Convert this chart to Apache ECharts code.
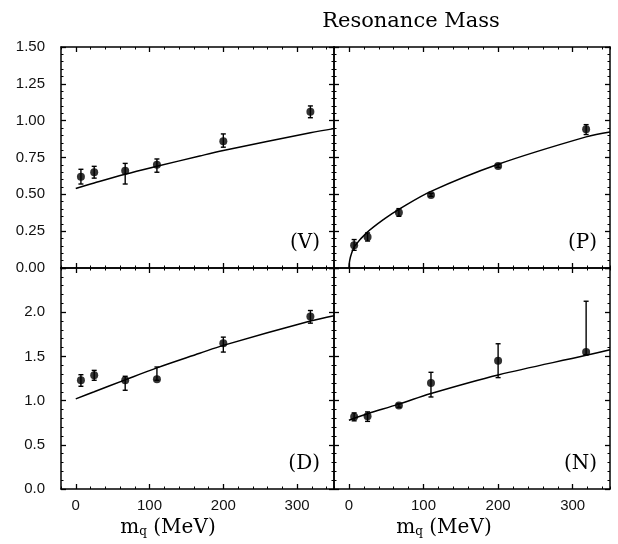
<!DOCTYPE html>
<html>
<head>
<meta charset="utf-8">
<script src="https://cdn.jsdelivr.net/npm/echarts@6/dist/echarts.min.js"></script>
<style>html,body{margin:0;padding:0;background:#fff}#c{width:618px;height:544px}</style>
</head>
<body>
<div id="c"></div>
<script>
// ---- data ----
const mq = [7, 25, 67, 110, 200, 318];

const vMass = [0.62, 0.65, 0.66, 0.70, 0.86, 1.06];
const vLo   = [0.57, 0.61, 0.57, 0.65, 0.82, 1.02];
const vHi   = [0.67, 0.69, 0.71, 0.74, 0.91, 1.10];

const pMass = [0.155, 0.21, 0.376, 0.496, 0.693, 0.942];
const pLo   = [0.12, 0.183, 0.351, 0.486, 0.683, 0.906];
const pHi   = [0.193, 0.238, 0.403, 0.506, 0.703, 0.973];

const dMass = [1.23, 1.286, 1.23, 1.241, 1.65, 1.951];
const dLo   = [1.162, 1.23, 1.117, 1.23, 1.549, 1.876];
const dHi   = [1.293, 1.342, 1.275, 1.38, 1.718, 2.019];

const nMass = [0.816, 0.823, 0.944, 1.20, 1.451, 1.549];
const nLo   = [0.771, 0.765, 0.925, 1.041, 1.26, 1.52];
const nHi   = [0.861, 0.872, 0.965, 1.32, 1.643, 2.124];

const vCurveX = [0, 25, 67, 110, 168, 200, 318, 350];
const vCurve  = [0.540, 0.577, 0.636, 0.690, 0.760, 0.797, 0.918, 0.946];
const pCurveX = [0, 1, 3.6, 8, 24, 48, 67, 110, 200, 318, 350];
const pCurve  = [0, 0.05, 0.10, 0.15, 0.24, 0.335, 0.398, 0.52, 0.704, 0.89, 0.923];
const dCurveX = [0, 25, 67, 110, 168, 200, 318, 350];
const dCurve  = [1.02, 1.10, 1.235, 1.37, 1.535, 1.625, 1.90, 1.96];
const nCurveX = [0, 8, 26, 67, 110, 200, 318, 350];
const nCurve  = [0.778, 0.804, 0.855, 0.96, 1.08, 1.29, 1.512, 1.576];

const xTicks = [0, 100, 200, 300];
const panelNames = ['(V)', '(P)', '(D)', '(N)'];
const titleText = 'Resonance Mass';
const xName = 'q';

// ---- layout ----
const panels = [
  {left: 61,  top: 47,  width: 273, ymax: 1.5, yint: 0.25, ylab: true,  xlab: false, dec: 2, showMax: true,
   mass: vMass, lo: vLo, hi: vHi, cx: vCurveX, cy: vCurve},
  {left: 334, top: 47,  width: 276, ymax: 1.5, yint: 0.25, ylab: false, xlab: false, dec: 2, showMax: true,
   mass: pMass, lo: pLo, hi: pHi, cx: pCurveX, cy: pCurve},
  {left: 61,  top: 268, width: 273, ymax: 2.5, yint: 0.5,  ylab: true,  xlab: true,  dec: 1, showMax: false,
   mass: dMass, lo: dLo, hi: dHi, cx: dCurveX, cy: dCurve},
  {left: 334, top: 268, width: 276, ymax: 2.5, yint: 0.5,  ylab: false, xlab: true,  dec: 1, showMax: false,
   mass: nMass, lo: nLo, hi: nHi, cx: nCurveX, cy: nCurve}
];
const H = 221;
const black = '#000';
const labelFont = {color: '#111', fontFamily: 'Liberation Sans', fontSize: 15};

const grid = [], xAxis = [], yAxis = [], series = [];
panels.forEach((p, g) => {
  grid.push({left: p.left, top: p.top, width: p.width, height: H});
  ['bottom', 'top'].forEach(pos => {
    xAxis.push({
      gridIndex: g, type: 'value', position: pos, min: -20, max: 350,
      axisLine: {show: true, onZero: false, lineStyle: {color: black, width: 1.5}},
      axisTick: {show: true, inside: true, length: 5, customValues: xTicks, lineStyle: {color: black, width: 1.3}},
      axisLabel: Object.assign({show: p.xlab && pos === 'bottom', customValues: xTicks, margin: 9}, labelFont),
      splitLine: {show: false}
    });
    xAxis.push({
      gridIndex: g, type: 'value', position: pos, min: -20, max: 350, interval: 20,
      axisLine: {show: false, onZero: false},
      axisTick: {show: true, inside: true, length: 2.5, lineStyle: {color: black, width: 1}},
      axisLabel: {show: false}, splitLine: {show: false}
    });
  });
  ['left', 'right'].forEach(pos => {
    yAxis.push({
      gridIndex: g, type: 'value', position: pos, min: 0, max: p.ymax, interval: p.yint,
      axisLine: {show: true, onZero: false, lineStyle: {color: black, width: 1.5}},
      axisTick: {show: true, inside: true, length: 5, lineStyle: {color: black, width: 1.3}},
      minorTick: {show: true, splitNumber: 5, length: 2.5, lineStyle: {color: black, width: 1}},
      axisLabel: Object.assign({show: p.ylab && pos === 'left', margin: 16, showMaxLabel: p.showMax,
        formatter: v => v.toFixed(p.dec)}, labelFont),
      splitLine: {show: false}
    });
  });
  const xi = 4 * g, yi = 2 * g;
  series.push({
    type: 'line', xAxisIndex: xi, yAxisIndex: yi, showSymbol: false, smooth: 0.35,
    lineStyle: {color: black, width: 1.5}, silent: true,
    data: p.cx.map((x, i) => [x, p.cy[i]])
  });
  series.push({
    type: 'custom', xAxisIndex: xi, yAxisIndex: yi, silent: true,
    encode: {x: 0, y: 1},
    data: mq.map((x, i) => [x, p.mass[i], p.lo[i], p.hi[i]]),
    renderItem: (params, api) => {
      const x = api.value(0);
      const t = api.coord([x, api.value(3)]);
      const b = api.coord([x, api.value(2)]);
      const w = 2.5;
      const st = {stroke: black, lineWidth: 1.4};
      return {type: 'group', children: [
        {type: 'line', shape: {x1: t[0], y1: t[1], x2: b[0], y2: b[1]}, style: st},
        {type: 'line', shape: {x1: t[0] - w, y1: t[1], x2: t[0] + w, y2: t[1]}, style: st},
        {type: 'line', shape: {x1: b[0] - w, y1: b[1], x2: b[0] + w, y2: b[1]}, style: st}
      ]};
    }
  });
  series.push({
    type: 'scatter', xAxisIndex: xi, yAxisIndex: yi, symbol: 'circle', symbolSize: 8,
    itemStyle: {color: black}, silent: true,
    data: mq.map((x, i) => [x, p.mass[i]])
  });
});

const serif = 'DejaVu Serif';
const graphic = [
  {type: 'text', x: 411, y: 22, style: {text: titleText, font: '21px "' + serif + '"', fill: black, textAlign: 'center', textVerticalAlign: 'middle'}},
  {type: 'text', x: 320, y: 243, style: {text: panelNames[0], font: '20px "' + serif + '"', fill: black, textAlign: 'right', textVerticalAlign: 'middle'}},
  {type: 'text', x: 597, y: 243, style: {text: panelNames[1], font: '20px "' + serif + '"', fill: black, textAlign: 'right', textVerticalAlign: 'middle'}},
  {type: 'text', x: 320, y: 464, style: {text: panelNames[2], font: '20px "' + serif + '"', fill: black, textAlign: 'right', textVerticalAlign: 'middle'}},
  {type: 'text', x: 597, y: 464, style: {text: panelNames[3], font: '20px "' + serif + '"', fill: black, textAlign: 'right', textVerticalAlign: 'middle'}}
];
[168, 444].forEach(cx => {
  graphic.push({type: 'text', x: cx, y: 528, style: {
    text: '{m|m}{q|' + xName + '}{m| (MeV)}', textAlign: 'center', textVerticalAlign: 'middle',
    rich: {
      m: {fontFamily: serif, fontSize: 20, fill: black, color: black},
      q: {fontFamily: serif, fontSize: 12, fill: black, color: black, verticalAlign: 'bottom', padding: [8, 0, 0, 0]}
    }
  }});
});

const chart = echarts.init(document.getElementById('c'), null, {renderer: 'canvas'});
chart.setOption({animation: false, backgroundColor: '#fff', grid, xAxis, yAxis, series, graphic});
</script>
</body>
</html>
